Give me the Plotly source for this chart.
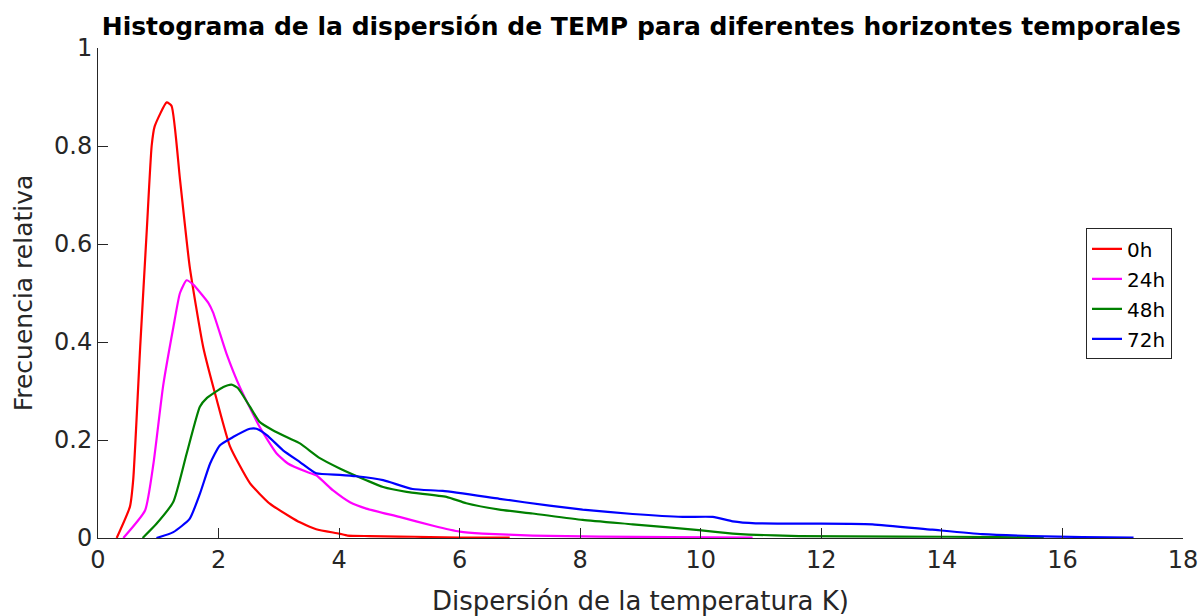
import plotly.graph_objects as go

# Curvas de dispersión de TEMP por horizonte temporal
x_0h = [0.31, 0.53, 0.585, 0.70, 0.81, 0.89, 0.94, 1.14, 1.22, 1.36, 1.52, 1.745, 1.97, 2.19, 2.52, 2.85, 3.18, 3.35, 3.62, 4.0, 4.14, 4.5, 5.0, 5.5, 6.0, 6.5, 6.83]
y_0h = [0.0, 0.064, 0.12, 0.39, 0.63, 0.80, 0.84, 0.889, 0.882, 0.732, 0.555, 0.39, 0.282, 0.187, 0.112, 0.07, 0.044, 0.032, 0.018, 0.009, 0.005, 0.004, 0.003, 0.002, 0.001, 0.001, 0.001]

x_24h = [0.42, 0.78, 0.92, 1.08, 1.25, 1.36, 1.47, 1.58, 1.83, 1.91, 2.13, 2.35, 2.68, 2.96, 3.15, 3.46, 3.62, 3.90, 4.18, 4.45, 5.0, 5.56, 6.0, 6.38, 7.21, 8.32, 9.5, 10.86]
y_24h = [0.0, 0.056, 0.152, 0.31, 0.43, 0.50, 0.526, 0.517, 0.48, 0.46, 0.377, 0.309, 0.227, 0.173, 0.152, 0.135, 0.128, 0.097, 0.073, 0.06, 0.043, 0.025, 0.013, 0.009, 0.005, 0.003, 0.002, 0.001]

x_48h = [0.74, 0.97, 1.25, 1.47, 1.69, 1.80, 2.08, 2.215, 2.32, 2.52, 2.68, 2.90, 3.18, 3.35, 3.68, 4.01, 4.45, 4.73, 5.12, 5.78, 6.11, 6.66, 7.21, 8.04, 8.87, 9.97, 10.53, 10.80, 11.63, 13.29, 14.94, 15.69]
y_48h = [0.0, 0.029, 0.074, 0.172, 0.268, 0.285, 0.308, 0.313, 0.306, 0.268, 0.237, 0.22, 0.203, 0.193, 0.163, 0.142, 0.118, 0.104, 0.094, 0.084, 0.071, 0.058, 0.05, 0.037, 0.028, 0.016, 0.009, 0.007, 0.004, 0.003, 0.002, 0.001]

x_72h = [0.97, 1.25, 1.52, 1.69, 1.86, 2.02, 2.24, 2.52, 2.63, 2.80, 3.07, 3.35, 3.62, 4.01, 4.29, 4.73, 5.22, 5.72, 6.66, 7.49, 8.04, 8.87, 9.70, 10.20, 10.53, 10.91, 12.46, 12.85, 13.84, 14.67, 15.50, 16.33, 17.18]
y_72h = [0.0, 0.012, 0.039, 0.09, 0.152, 0.189, 0.206, 0.223, 0.223, 0.21, 0.179, 0.155, 0.132, 0.129, 0.126, 0.118, 0.1, 0.096, 0.08, 0.066, 0.058, 0.049, 0.043, 0.043, 0.034, 0.030, 0.029, 0.028, 0.017, 0.008, 0.004, 0.002, 0.001]

series = [
    ("0h", x_0h, y_0h, "#ff0000"),
    ("24h", x_24h, y_24h, "#ff00ff"),
    ("48h", x_48h, y_48h, "#008000"),
    ("72h", x_72h, y_72h, "#0000ff"),
]

x_ticks = [0, 2, 4, 6, 8, 10, 12, 14, 16, 18]
y_ticks = [0, 0.2, 0.4, 0.6, 0.8, 1]
y_tick_text = ["0", "0.2", "0.4", "0.6", "0.8", "1"]

FONT = "DejaVu Sans, Arial, sans-serif"
AX = "#262626"

fig = go.Figure()
for name, xs, ys, color in series:
    fig.add_trace(go.Scatter(x=xs, y=ys, mode="lines", name=name, legendgroup=name,
                             line=dict(color=color, width=2.2, shape="spline", smoothing=0.5)))

fig.update_layout(
    width=1201, height=616,
    margin=dict(l=98, r=18, t=48, b=78),
    paper_bgcolor="white", plot_bgcolor="white",
    font=dict(family=FONT, color=AX),
    title=dict(text="<b>Histograma de la dispersión de TEMP para diferentes horizontes temporales</b>",
               x=0.534, xanchor="center", y=0.958, yanchor="middle",
               font=dict(size=25, color="black", family=FONT)),
    showlegend=True,
    legend=dict(x=0.9106, y=0.632, xanchor="left", yanchor="top",
                bgcolor="white", bordercolor=AX, borderwidth=1,
                font=dict(size=20, color="black", family=FONT),
                itemwidth=30, tracegroupgap=1),
)

fig.update_xaxes(range=[0, 18], tickvals=x_ticks, ticks="inside", ticklen=10,
                 tickcolor=AX, showline=True, linecolor=AX, linewidth=1,
                 showgrid=False, zeroline=False, automargin=False,
                 tickfont=dict(size=24, color=AX),
                 title=dict(text="Dispersión de la temperatura K)", standoff=22,
                            font=dict(size=26, color=AX)))
fig.update_yaxes(range=[0, 1], tickvals=y_ticks, ticktext=y_tick_text, ticks="inside", ticklen=10,
                 tickcolor=AX, showline=True, linecolor=AX, linewidth=1,
                 showgrid=False, zeroline=False, automargin=False,
                 tickfont=dict(size=24, color=AX),
                 title=dict(text="Frecuencia relativa", standoff=14,
                            font=dict(size=25, color=AX)))

fig.write_html("out.html")
